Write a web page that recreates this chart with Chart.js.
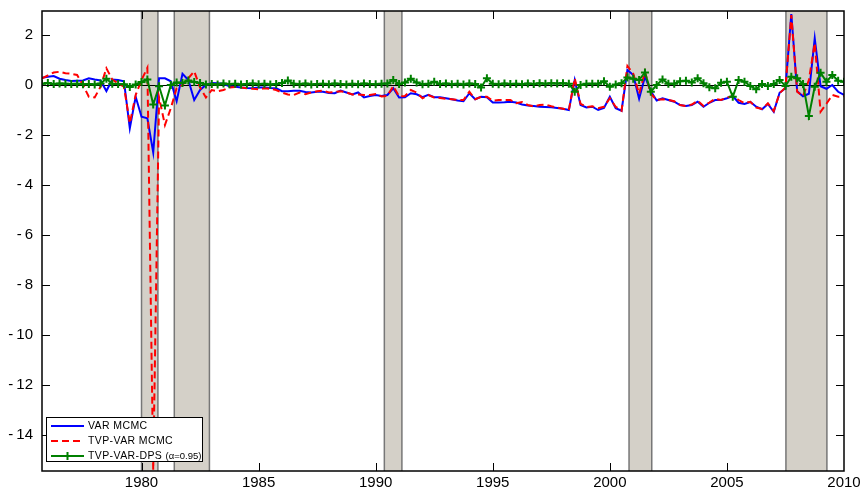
<!DOCTYPE html>
<html>
<head>
<meta charset="utf-8">
<script src="https://cdn.jsdelivr.net/npm/chart.js@4.4.0/dist/chart.umd.min.js"></script>
<style>
  html, body { margin: 0; padding: 0; background: #fff; }
  #wrap { width: 861px; height: 492px; }
</style>
</head>
<body>
<div id="wrap"><canvas id="grafico" width="861" height="492"></canvas></div>
<script>
// quarterly data, first quarter 1975Q4
var startYear = 1975.75;
var step = 0.25;

var varMcmc = [
  0.29, 0.33, 0.36, 0.25, 0.2, 0.16, 0.17, 0.18, 0.27, 0.22,
  0.18, -0.24, 0.22, 0.2, 0.15, -1.73, -0.47, -1.27, -1.33, -2.7,
  0.27, 0.27, 0.15, -0.65, 0.45, 0.2, -0.6, -0.2, 0.0, 0.08,
  0.07, 0.05, -0.05, -0.07, -0.1, -0.12, -0.13, -0.1, -0.1, -0.12,
  -0.13, -0.25, -0.25, -0.23, -0.23, -0.28, -0.3, -0.27, -0.27, -0.32,
  -0.33, -0.22, -0.3, -0.38, -0.3, -0.5, -0.44, -0.4, -0.44, -0.4,
  -0.13, -0.5, -0.49, -0.33, -0.37, -0.49, -0.39, -0.49, -0.49, -0.53,
  -0.57, -0.62, -0.65, -0.33, -0.57, -0.47, -0.49, -0.7, -0.7, -0.69,
  -0.67, -0.7, -0.78, -0.82, -0.84, -0.87, -0.88, -0.89, -0.92, -0.95,
  -1.0, 0.2, -0.8, -0.9, -0.87, -1.0, -0.92, -0.47, -0.93, -1.03,
  0.6, 0.4, -0.55, 0.33, -0.25, -0.62, -0.53, -0.6, -0.67, -0.8,
  -0.84, -0.8, -0.67, -0.87, -0.71, -0.6, -0.6, -0.53, -0.44, -0.71,
  -0.76, -0.68, -0.87, -0.97, -0.76, -1.07, -0.31, -0.13, 2.84, -0.25,
  -0.45, -0.35, 1.87, -0.05, -0.15, 0.0, -0.27, -0.4
];

var tvpVarMcmc = [
  0.27, 0.38, 0.5, 0.53, 0.47, 0.45, 0.4, 0.0, -0.47, -0.5,
  -0.07, 0.67, 0.22, 0.07, -0.07, -1.53, -0.4, 0.2, 0.69, -15.4,
  -0.5, -1.6, -0.93, -0.13, 0.0, 0.27, 0.55, -0.1, -0.5, -0.2,
  -0.25, -0.2, -0.1, -0.08, -0.1, -0.13, -0.15, -0.17, -0.13, -0.15,
  -0.2, -0.3, -0.38, -0.4, -0.3, -0.37, -0.3, -0.25, -0.22, -0.3,
  -0.28, -0.25, -0.3, -0.38, -0.38, -0.4, -0.4, -0.36, -0.46, -0.43,
  -0.05, -0.45, -0.44, -0.2, -0.3, -0.53, -0.4, -0.5, -0.52, -0.55,
  -0.57, -0.6, -0.6, -0.27, -0.57, -0.47, -0.47, -0.63, -0.6, -0.6,
  -0.6, -0.73, -0.68, -0.8, -0.86, -0.8, -0.78, -0.85, -0.9, -0.95,
  -1.0, 0.27, -0.75, -0.88, -0.85, -0.93, -0.87, -0.53, -0.87, -1.03,
  0.76, 0.45, -0.35, 0.53, -0.35, -0.6, -0.57, -0.6, -0.65, -0.8,
  -0.84, -0.78, -0.63, -0.84, -0.7, -0.55, -0.6, -0.5, -0.44, -0.6,
  -0.73, -0.67, -0.9, -0.96, -0.73, -1.04, -0.33, -0.1, 2.8, -0.27,
  -0.44, 0.2, 1.67, -1.07, -0.75, -0.4, -0.47, -0.45
];

var tvpVarDps = [
  0.05, 0.08, 0.04, 0.06, 0.05, 0.04, 0.05, 0.03, 0.04, 0.02,
  0.06, 0.25, 0.05, 0.04, 0.03, -0.08, 0.02, 0.12, 0.22, -0.78,
  -0.05, -0.82, 0.0, 0.1, 0.08, 0.18, 0.12, 0.08, 0.02, 0.04,
  0.02, 0.06, 0.03, 0.05, 0.02, 0.04, 0.06, 0.03, 0.05, 0.02,
  0.04, 0.08, 0.18, 0.05, 0.03, 0.06, 0.02, 0.04, 0.05, 0.03,
  0.06, 0.04, 0.02, 0.05, 0.03, 0.06, 0.04, 0.03, 0.05, 0.06,
  0.2, 0.04, 0.1, 0.25, 0.1, 0.03, 0.05, 0.13, 0.04, 0.06,
  0.03, 0.05, 0.02, 0.06, 0.04, -0.1, 0.27, 0.05, 0.03, 0.06,
  0.04, 0.05, 0.03, 0.06, 0.04, 0.07, 0.05, 0.07, 0.06, 0.07,
  0.05, -0.27, 0.0, 0.05, 0.05, 0.05, 0.15, -0.07, 0.02, 0.07,
  0.3, 0.25, 0.2, 0.5, -0.27, 0.0, 0.22, 0.05, 0.05, 0.15,
  0.17, 0.1, 0.27, 0.07, -0.09, -0.13, 0.09, 0.13, -0.47, 0.2,
  0.13, -0.04, -0.17, 0.04, -0.04, 0.04, 0.2, -0.04, 0.33, 0.27,
  0.04, -1.24, -0.07, 0.49, 0.13, 0.4, 0.17, 0.13
];

// recession periods (start, end) in years
var recessions = [[1980.0, 1980.7], [1981.4, 1982.9], [1990.37, 1991.12], [2000.82, 2001.79], [2007.52, 2009.27]];

var xTicks = [1980, 1985, 1990, 1995, 2000, 2005, 2010];
var yTicks = [2, 0, -2, -4, -6, -8, -10, -12, -14];

var legendLabels = ['VAR MCMC', 'TVP-VAR MCMC', 'TVP-VAR-DPS'];
var legendSuffix = '(\u03b1=0.95)';

var colBlue = '#0000ff', colRed = '#ff0000', colGreen = '#008000';

function puntos(serie) {
  return serie.map(function (v, i) { return { x: startYear + i * step, y: v }; });
}

// sombreado de recesiones y linea del cero
var fondo = {
  id: 'fondo',
  beforeDatasetsDraw: function (chart) {
    var ctx = chart.ctx, a = chart.chartArea, sx = chart.scales.x, sy = chart.scales.y;
    ctx.save();
    recessions.forEach(function (r) {
      var x0 = sx.getPixelForValue(r[0]), x1 = sx.getPixelForValue(r[1]);
      ctx.fillStyle = '#d4d0c8';
      ctx.fillRect(x0, a.top, x1 - x0, a.bottom - a.top);
      ctx.strokeStyle = '#777777';
      ctx.lineWidth = 1.5;
      ctx.beginPath();
      ctx.moveTo(x0, a.top); ctx.lineTo(x0, a.bottom);
      ctx.moveTo(x1, a.top); ctx.lineTo(x1, a.bottom);
      ctx.stroke();
    });
    var y0 = Math.round(sy.getPixelForValue(0)) + 0.5;
    ctx.strokeStyle = '#000';
    ctx.lineWidth = 1;
    ctx.beginPath();
    ctx.moveTo(a.left, y0); ctx.lineTo(a.right, y0);
    ctx.stroke();
    ctx.restore();
  },
  afterDatasetsDraw: function (chart) {
    var ctx = chart.ctx, a = chart.chartArea, sx = chart.scales.x, sy = chart.scales.y;
    ctx.save();
    // marco
    ctx.strokeStyle = '#000';
    ctx.lineWidth = 1.5;
    ctx.strokeRect(a.left, a.top, a.right - a.left, a.bottom - a.top);
    // marcas hacia dentro
    ctx.lineWidth = 1;
    ctx.beginPath();
    xTicks.forEach(function (t) {
      var px = Math.round(sx.getPixelForValue(t)) + 0.5;
      if (px > a.right - 2) return;
      ctx.moveTo(px, a.bottom); ctx.lineTo(px, a.bottom - 8);
      ctx.moveTo(px, a.top); ctx.lineTo(px, a.top + 8);
    });
    yTicks.forEach(function (t) {
      var py = Math.round(sy.getPixelForValue(t)) + 0.5;
      ctx.moveTo(a.left, py); ctx.lineTo(a.left + 8, py);
      ctx.moveTo(a.right, py); ctx.lineTo(a.right - 8, py);
    });
    ctx.stroke();

    // leyenda
    var bx = 46.5, by = 417.5, bw = 156, bh = 44;
    ctx.fillStyle = '#fff';
    ctx.fillRect(bx, by, bw, bh);
    ctx.strokeStyle = '#000';
    ctx.lineWidth = 1;
    ctx.strokeRect(bx, by, bw, bh);
    var filas = [426, 441, 456];
    var colores = [colBlue, colRed, colGreen];
    filas.forEach(function (fy, k) {
      ctx.strokeStyle = colores[k];
      ctx.lineWidth = 2;
      ctx.setLineDash(k === 1 ? [7, 4] : []);
      ctx.beginPath();
      ctx.moveTo(51, fy); ctx.lineTo(84, fy);
      ctx.stroke();
      ctx.setLineDash([]);
      if (k === 2) {
        ctx.lineWidth = 2;
        ctx.beginPath();
        ctx.moveTo(67.5, fy - 4); ctx.lineTo(67.5, fy + 4);
        ctx.moveTo(63.5, fy); ctx.lineTo(71.5, fy);
        ctx.stroke();
      }
      ctx.fillStyle = '#000';
      ctx.textBaseline = 'middle';
      ctx.textAlign = 'left';
      ctx.font = '10.5px "Liberation Sans", Arial, sans-serif';
      ctx.letterSpacing = '0.4px';
      ctx.fillText(legendLabels[k], 88, fy);
      if (k === 2) {
        var w = ctx.measureText(legendLabels[k] + ' ').width;
        ctx.font = '9.5px "Liberation Sans", Arial, sans-serif';
        ctx.letterSpacing = '0px';
        ctx.fillText(legendSuffix, 88 + w, fy);
      }
    });
    ctx.restore();
  }
};

function sinRelleno(s) {
  s.paddingTop = 0; s.paddingBottom = 0; s.paddingLeft = 0; s.paddingRight = 0;
}

new Chart(document.getElementById('grafico'), {
  type: 'line',
  data: {
    datasets: [{
      label: legendLabels[0],
      data: puntos(varMcmc),
      borderColor: colBlue,
      borderWidth: 2,
      pointRadius: 0,
      order: 3
    }, {
      label: legendLabels[1],
      data: puntos(tvpVarMcmc),
      borderColor: colRed,
      borderWidth: 2,
      borderDash: [7, 4],
      pointRadius: 0,
      order: 2
    }, {
      label: legendLabels[2] + ' ' + legendSuffix,
      data: puntos(tvpVarDps),
      borderColor: colGreen,
      borderWidth: 2,
      pointStyle: 'cross',
      pointRadius: 4,
      pointBorderWidth: 2,
      pointBorderColor: colGreen,
      order: 1
    }]
  },
  options: {
    responsive: false,
    animation: false,
    devicePixelRatio: 1,
    layout: { padding: { top: 11, right: 17, left: 0, bottom: 0 } },
    plugins: { legend: { display: false }, tooltip: { enabled: false } },
    elements: { line: { tension: 0 } },
    scales: {
      x: {
        type: 'linear',
        min: 1975.75,
        max: 2010.0,
        grid: { display: false, drawTicks: false },
        border: { display: false },
        afterBuildTicks: function (s) { s.ticks = xTicks.map(function (v) { return { value: v }; }); },
        afterFit: function (s) { s.height = 21; sinRelleno(s); },
        ticks: {
          autoSkip: false,
          maxRotation: 0,
          padding: 3,
          color: '#000',
          font: { family: '"Liberation Sans", Arial, sans-serif', size: 15 },
          callback: function (v) { return String(v); }
        }
      },
      y: {
        type: 'linear',
        min: -15.44,
        max: 2.96,
        grid: { display: false, drawTicks: false },
        border: { display: false },
        afterBuildTicks: function (s) { s.ticks = yTicks.map(function (v) { return { value: v }; }); },
        afterFit: function (s) { s.width = 42; sinRelleno(s); },
        ticks: {
          padding: 9,
          color: '#000',
          font: { family: '"Liberation Sans", Arial, sans-serif', size: 15 },
          callback: function (v) { return v < 0 ? '-\u2009' + Math.abs(v) : String(v); }
        }
      }
    }
  },
  plugins: [fondo]
});
</script>
</body>
</html>
